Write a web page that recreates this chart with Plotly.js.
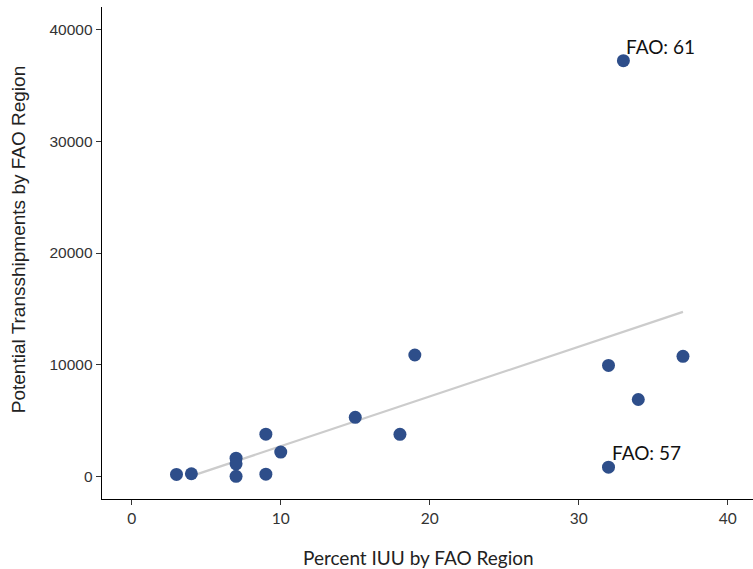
<!DOCTYPE html>
<html>
<head>
<meta charset="utf-8">
<script src="https://cdn.plot.ly/plotly-3.0.1.min.js"></script>
<style>html,body{margin:0;padding:0;background:#fff;}#chart{width:753px;height:569px;}</style>
</head>
<body>
<div id="chart"></div>
<script>
// Data
const faoRegion = ["r1","r2","r3","r4","r5","r6","r7","r8","r9","r10","r11","r12","r13","r14","57","61"];
const percentIUU = [3, 4, 7, 7, 7, 9, 9, 10, 15, 18, 19, 32, 37, 34, 32, 33];
const transshipments = [200, 260, 1650, 1150, 30, 3800, 220, 2200, 5300, 3780, 10880, 9950, 10760, 6900, 850, 37200];
const labelled = ["57", "61"];
const xTicks = [0, 10, 20, 30, 40];
const yTicks = [0, 10000, 20000, 30000, 40000];
const xTitle = "Percent IUU by FAO Region";
const yTitle = "Potential Transshipments by FAO Region";

// Linear fit (lm) over all points, evaluated on 80 grid points; values below 0 dropped (scale limit)
const n = percentIUU.length;
const mx = percentIUU.reduce((a,b)=>a+b,0)/n;
const my = transshipments.reduce((a,b)=>a+b,0)/n;
let sxx=0, sxy=0;
for (let i=0;i<n;i++){ sxx += (percentIUU[i]-mx)**2; sxy += (percentIUU[i]-mx)*(transshipments[i]-my); }
const slope = sxy/sxx, intercept = my - slope*mx;
const xmin = Math.min(...percentIUU), xmax = Math.max(...percentIUU);
const fx = [], fy = [];
for (let k=0;k<80;k++){
  const xv = xmin + (xmax-xmin)*k/79;
  const yv = intercept + slope*xv;
  if (yv >= 0) { fx.push(xv); fy.push(yv); }
}

const traces = [
  {x: fx, y: fy, type: "scatter", mode: "lines", line: {color: "#cccccc", width: 2.2}, hoverinfo: "skip"},
  {x: percentIUU, y: transshipments, type: "scatter", mode: "markers",
   marker: {color: "#2e4e8a", size: 13, line: {width: 0}}}
];

const annotations = [];
for (let i=0;i<n;i++){
  if (labelled.includes(faoRegion[i])) {
    annotations.push({x: percentIUU[i], y: transshipments[i], xref: "x", yref: "y",
      text: "FAO: " + faoRegion[i], showarrow: false, xanchor: "left", yanchor: "bottom",
      xshift: 1, yshift: 1, font: {family: "Lato, sans-serif", size: 19, color: "#111"}});
  }
}
annotations.push({xref: "paper", yref: "paper", x: 0.486, y: -0.118, xanchor: "center", yanchor: "middle",
  text: xTitle, showarrow: false, font: {family: "Lato, sans-serif", size: 19, color: "#222"}});
annotations.push({xref: "paper", yref: "paper", x: -0.129, y: 0.526, xanchor: "center", yanchor: "middle",
  textangle: -90, text: yTitle, showarrow: false,
  font: {family: "Liberation Sans, Arial, sans-serif", size: 19, color: "#222"}});

const layout = {
  width: 753, height: 569,
  margin: {l: 102, r: 0, t: 7, b: 70},
  paper_bgcolor: "#fff", plot_bgcolor: "#fff",
  showlegend: false,
  xaxis: {
    range: [-2, 41.7], tickvals: xTicks, ticktext: xTicks.map(String),
    showgrid: false, zeroline: false, showline: true, linecolor: "#000", linewidth: 1.3,
    ticks: "outside", ticklen: 5, tickcolor: "#333", tickwidth: 1,
    tickfont: {family: "Lato, sans-serif", size: 15.5, color: "#333"}
  },
  yaxis: {
    range: [-2000, 42000], tickvals: yTicks, ticktext: yTicks.map(String),
    showgrid: false, zeroline: false, showline: true, linecolor: "#000", linewidth: 1.3,
    ticks: "outside", ticklen: 5, tickcolor: "#333", tickwidth: 1,
    tickfont: {family: "Liberation Sans, Arial, sans-serif", size: 15.5, color: "#333"}
  },
  annotations: annotations
};

Plotly.newPlot("chart", traces, layout, {displayModeBar: false, staticPlot: true});
</script>
</body>
</html>
